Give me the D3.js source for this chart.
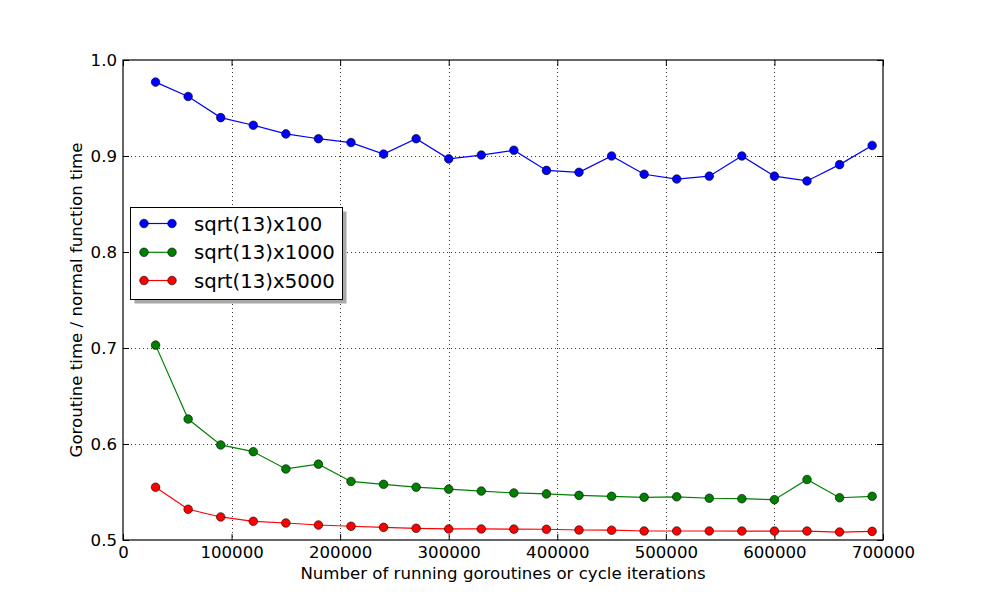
<!DOCTYPE html>
<html><head><meta charset="utf-8">
<script src="https://cdn.jsdelivr.net/npm/d3@7"></script>
<style>body{margin:0;background:#fff}svg{display:block}text{font-family:"DejaVu Sans",sans-serif;fill:#000}</style>
</head><body>
<script>
const xValues = [30000,60000,90000,120000,150000,180000,210000,240000,270000,300000,330000,360000,390000,420000,450000,480000,510000,540000,570000,600000,630000,660000,690000];
const series100 = [0.977,0.962,0.940,0.932,0.923,0.918,0.914,0.902,0.918,0.897,0.901,0.906,0.885,0.883,0.900,0.881,0.876,0.879,0.900,0.879,0.874,0.891,0.911];
const series1000 = [0.703,0.626,0.599,0.592,0.574,0.579,0.561,0.558,0.555,0.553,0.551,0.549,0.548,0.5465,0.5455,0.5445,0.545,0.5435,0.543,0.542,0.563,0.544,0.5455];
const series5000 = [0.555,0.532,0.524,0.5195,0.5177,0.5156,0.5143,0.5132,0.5122,0.5115,0.5115,0.5113,0.5112,0.5104,0.5102,0.5094,0.5094,0.5094,0.5093,0.5093,0.5093,0.5083,0.509];
const seriesNames = ["sqrt(13)x100","sqrt(13)x1000","sqrt(13)x5000"];
const seriesColors = ["#0000ff","#008000","#ff0000"];
const xTicks = [0,100000,200000,300000,400000,500000,600000,700000];
const yTicks = [0.5,0.6,0.7,0.8,0.9,1.0];
const xLabel = "Number of running goroutines or cycle iterations";
const yLabel = "Goroutine time / normal function time";

const W = 981, H = 600;
const L = 123, R = 883, T = 60, B = 540;
const svg = d3.select("body").append("svg").attr("width", W).attr("height", H);
const x = d3.scaleLinear().domain([0, 700000]).range([L, R]);
const y = d3.scaleLinear().domain([0.5, 1.0]).range([B, T]);

// grid
const g = svg.append("g");
g.selectAll(".gx").data(xTicks.slice(1, -1)).join("line")
  .attr("x1", d => Math.round(x(d)) + 0.5).attr("x2", d => Math.round(x(d)) + 0.5)
  .attr("y1", T).attr("y2", B).attr("stroke", "#000").attr("stroke-width", 0.8).attr("stroke-dasharray", "1,3");
g.selectAll(".gy").data(yTicks.slice(1, -1)).join("line")
  .attr("y1", d => Math.round(y(d)) + 0.5).attr("y2", d => Math.round(y(d)) + 0.5)
  .attr("x1", L).attr("x2", R).attr("stroke", "#000").attr("stroke-width", 0.8).attr("stroke-dasharray", "1,3");

// axes with inward ticks
const fmtX = d => String(d);
const fmtY = d => d3.format(".1f")(d);
const ax = svg.append("g").attr("transform", `translate(0,${B})`)
  .call(d3.axisBottom(x).tickValues(xTicks).tickFormat(fmtX).tickSizeInner(-6).tickSizeOuter(0).tickPadding(6));
const axT = svg.append("g").attr("transform", `translate(0,${T})`)
  .call(d3.axisTop(x).tickValues(xTicks).tickFormat("").tickSizeInner(-6).tickSizeOuter(0));
const ay = svg.append("g").attr("transform", `translate(${L},0)`)
  .call(d3.axisLeft(y).tickValues(yTicks).tickFormat(fmtY).tickSizeInner(-6).tickSizeOuter(0).tickPadding(6));
const ayR = svg.append("g").attr("transform", `translate(${R},0)`)
  .call(d3.axisRight(y).tickValues(yTicks).tickFormat("").tickSizeInner(-6).tickSizeOuter(0));
[ax, axT, ay, ayR].forEach(a => {
  a.select(".domain").remove();
  a.selectAll("line").attr("stroke", "#000").attr("stroke-width", 1);
  a.selectAll("text").style("font-family", '"DejaVu Sans", sans-serif').style("font-size", "16.6px").attr("fill", "#000");
});
ax.selectAll("text").attr("dy", "0.71em");

// series
const allSeries = [series100, series1000, series5000];
const line = d3.line().x((d, i) => x(xValues[i])).y(d => y(d));
allSeries.forEach((s, k) => {
  const sg = svg.append("g");
  sg.append("path").datum(s).attr("d", line).attr("fill", "none")
    .attr("stroke", seriesColors[k]).attr("stroke-width", 1.2);
  sg.selectAll("circle").data(s).join("circle")
    .attr("cx", (d, i) => x(xValues[i])).attr("cy", d => y(d)).attr("r", 4.3)
    .attr("fill", seriesColors[k]).attr("stroke", "#000").attr("stroke-width", 0.6);
});

// frame
svg.append("rect").attr("x", L).attr("y", T).attr("width", R - L).attr("height", B - T)
  .attr("fill", "none").attr("stroke", "#000").attr("stroke-width", 1.2);

// labels
svg.append("text").attr("x", (L + R) / 2).attr("y", 579).attr("text-anchor", "middle")
  .style("font-size", "16.6px").text(xLabel);
svg.append("text").attr("transform", `translate(82,${(T + B) / 2}) rotate(-90)`).attr("text-anchor", "middle")
  .style("font-size", "16.6px").text(yLabel);

// legend
const lg = svg.append("g");
const lx = 130.5, ly = 207.5, lw = 212, lh = 92;
lg.append("rect").attr("x", lx + 4).attr("y", ly + 4).attr("width", lw).attr("height", lh).attr("fill", "#a8a8a8");
lg.append("rect").attr("x", lx).attr("y", ly).attr("width", lw).attr("height", lh).attr("fill", "#fff")
  .attr("stroke", "#000").attr("stroke-width", 1);
const rows = [223.5, 252.3, 280.5];
seriesNames.forEach((n, k) => {
  lg.append("line").attr("x1", 144).attr("x2", 172).attr("y1", rows[k]).attr("y2", rows[k])
    .attr("stroke", seriesColors[k]).attr("stroke-width", 1.2);
  [144, 172].forEach(cx => lg.append("circle").attr("cx", cx).attr("cy", rows[k]).attr("r", 4.3)
    .attr("fill", seriesColors[k]).attr("stroke", "#000").attr("stroke-width", 0.6));
  lg.append("text").attr("x", 194).attr("y", rows[k]).attr("dy", "0.36em")
    .style("font-size", "19.7px").text(n);
});
</script>
</body></html>
